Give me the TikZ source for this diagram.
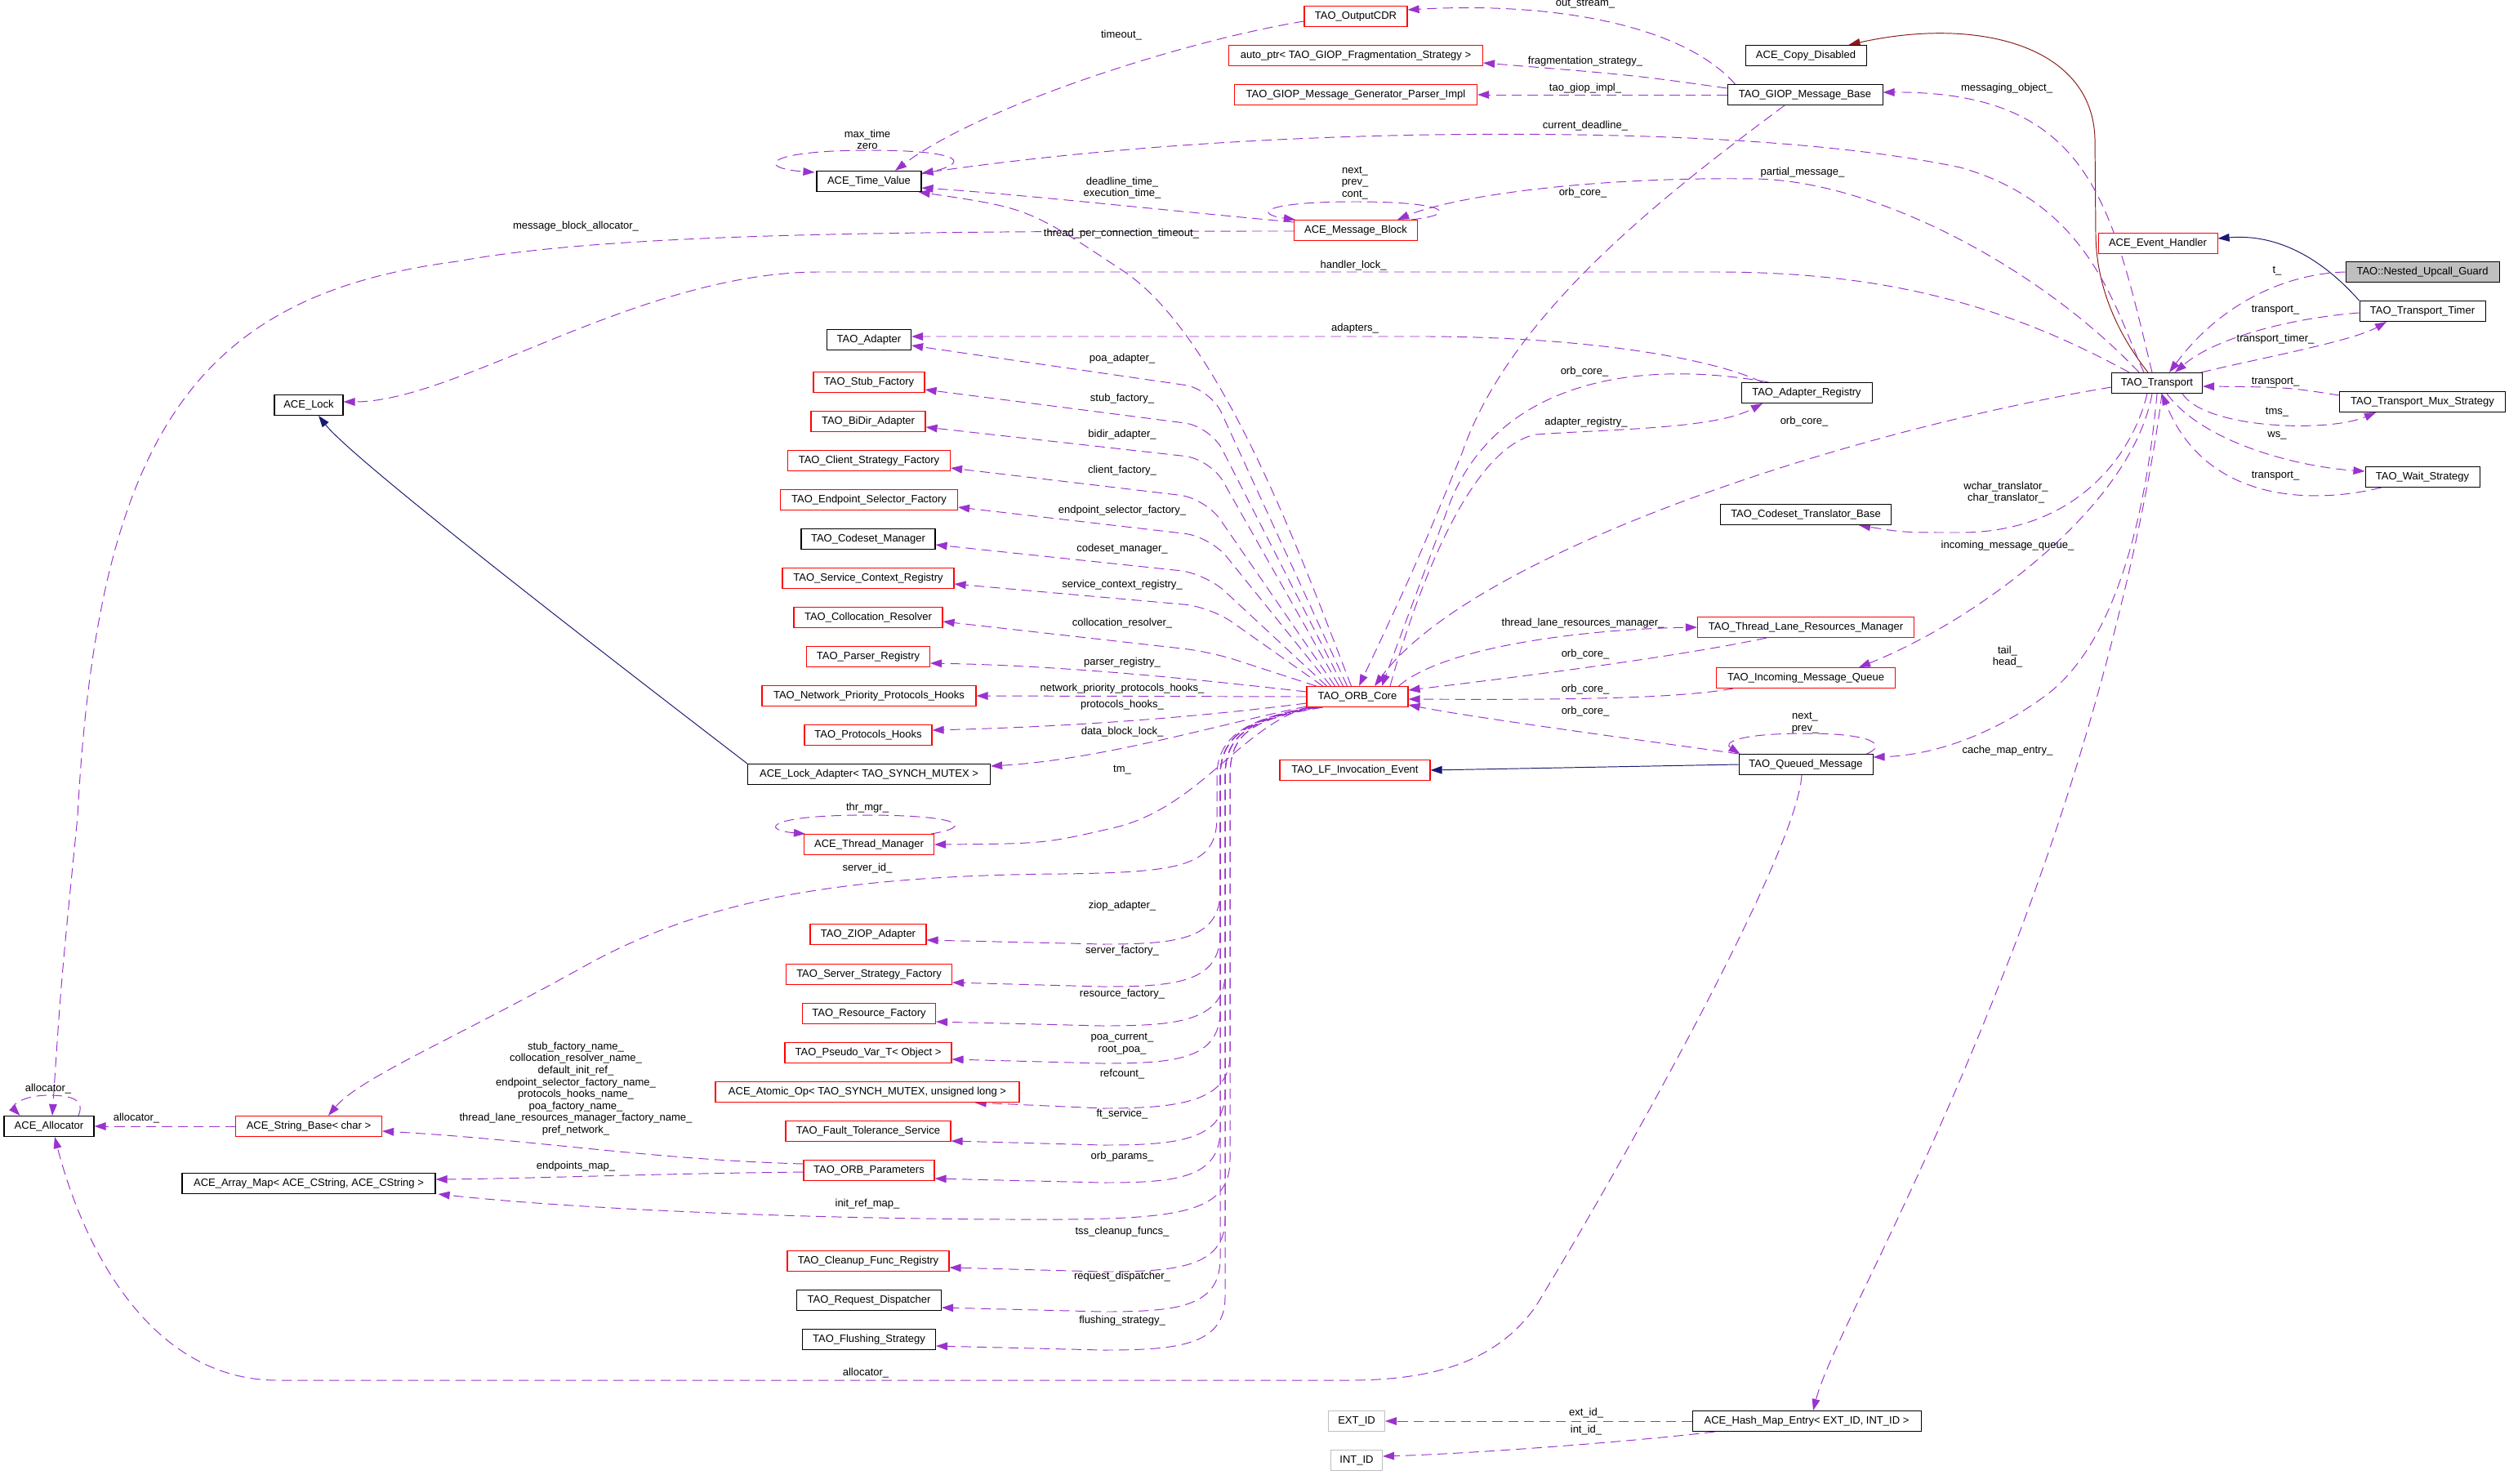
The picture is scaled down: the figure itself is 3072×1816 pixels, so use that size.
\documentclass[tikz,border=0pt]{standalone}
\usepackage{fontspec}
\setmainfont{Liberation Sans}
\usetikzlibrary{arrows.meta,calc,backgrounds}
\definecolor{ucol}{HTML}{9A32CD}
\definecolor{navyc}{HTML}{191970}
\definecolor{maroonc}{HTML}{8B1A1A}
\newcommand{\dfont}{\fontsize{7.4}{8.3}\selectfont}
\begin{document}
\begin{tikzpicture}[x=0.02cm,y=-0.02cm,
  nd/.style={line width=0.6pt, font=\dfont, minimum height=0.5cm, inner xsep=0.1cm, inner ysep=0pt, fill=white},
  rnd/.style={nd, draw=red},
  bnd/.style={nd, draw=black},
  gnd/.style={nd, draw=black!25},
  rootnd/.style={nd, draw=black, fill=black!25},
  wd/.style={minimum width=#1*0.02cm},
  uedge/.style={draw=ucol, dash pattern=on 7pt off 4pt, line width=0.55pt, -{Triangle[length=8pt,width=5.5pt]}},
  inhb/.style={draw=navyc, line width=0.55pt, -{Triangle[length=8pt,width=5.5pt]}},
  inhr/.style={draw=maroonc, line width=0.55pt, -{Triangle[length=8pt,width=5.5pt]}},
  lbl/.style={font=\dfont, inner sep=0pt, align=center},
  rc/.style={rounded corners=18pt}
]
\useasboundingbox (0,0) rectangle (3072,1816);

% ---------------- nodes ----------------
\node[rnd,wd=126] (cdr) at (1660,20) {TAO\_OutputCDR};
\node[rnd,wd=311] (autoptr) at (1660,68) {auto\_ptr< TAO\_GIOP\_Fragmentation\_Strategy >};
\node[rnd,wd=297] (gpi) at (1660,116) {TAO\_GIOP\_Message\_Generator\_Parser\_Impl};
\node[bnd,wd=148] (copy) at (2211,68) {ACE\_Copy\_Disabled};
\node[bnd,wd=190] (gmb) at (2210,116) {TAO\_GIOP\_Message\_Base};
\node[rnd,wd=146] (evh) at (2642,298) {ACE\_Event\_Handler};
\node[rootnd,wd=188] (nug) at (2966,333) {TAO::Nested\_Upcall\_Guard};
\node[rnd,wd=151] (amb) at (1660,282) {ACE\_Message\_Block};
\node[bnd,wd=128] (atv) at (1064,222) {ACE\_Time\_Value};
\node[bnd,wd=103] (adp) at (1064,416) {TAO\_Adapter};
\node[rnd,wd=136] (stub) at (1064,468) {TAO\_Stub\_Factory};
\node[rnd,wd=140] (bidir) at (1063,516) {TAO\_BiDir\_Adapter};
\node[rnd,wd=199] (csf) at (1064,564) {TAO\_Client\_Strategy\_Factory};
\node[rnd,wd=217] (esf) at (1064,612) {TAO\_Endpoint\_Selector\_Factory};
\node[bnd,wd=164] (csm) at (1063,660) {TAO\_Codeset\_Manager};
\node[rnd,wd=210] (scr) at (1063,708) {TAO\_Service\_Context\_Registry};
\node[rnd,wd=182] (cres) at (1063,756) {TAO\_Collocation\_Resolver};
\node[rnd,wd=151] (preg) at (1063,804) {TAO\_Parser\_Registry};
\node[rnd,wd=262] (nph) at (1064,852) {TAO\_Network\_Priority\_Protocols\_Hooks};
\node[rnd,wd=156] (phk) at (1063,900) {TAO\_Protocols\_Hooks};
\node[bnd,wd=297] (lad) at (1064,948) {ACE\_Lock\_Adapter< TAO\_SYNCH\_MUTEX >};
\node[rnd,wd=159] (thm) at (1064,1034) {ACE\_Thread\_Manager};
\node[rnd,wd=142] (ziop) at (1063,1144) {TAO\_ZIOP\_Adapter};
\node[rnd,wd=203] (ssf) at (1064,1193) {TAO\_Server\_Strategy\_Factory};
\node[rnd,wd=163] (rf) at (1064,1241) {TAO\_Resource\_Factory};
\node[rnd,wd=204] (pvar) at (1063,1289) {TAO\_Pseudo\_Var\_T< Object >};
\node[rnd,wd=372] (aop) at (1062,1337) {ACE\_Atomic\_Op< TAO\_SYNCH\_MUTEX, unsigned long >};
\node[rnd,wd=202] (fts) at (1063,1385) {TAO\_Fault\_Tolerance\_Service};
\node[rnd,wd=160] (orbp) at (1064,1433) {TAO\_ORB\_Parameters};
\node[rnd,wd=198] (cfr) at (1063,1544) {TAO\_Cleanup\_Func\_Registry};
\node[bnd,wd=177] (rdisp) at (1064,1592) {TAO\_Request\_Dispatcher};
\node[bnd,wd=163] (flush) at (1064,1640) {TAO\_Flushing\_Strategy};
\node[bnd,wd=84] (lock) at (378,496) {ACE\_Lock};
\node[bnd,wd=110] (alloc) at (60,1379) {ACE\_Allocator};
\node[rnd,wd=179] (sbase) at (378,1379) {ACE\_String\_Base< char >};
\node[bnd,wd=310] (amap) at (378,1449) {ACE\_Array\_Map< ACE\_CString, ACE\_CString >};
\node[rnd,wd=124] (orb) at (1662,853) {TAO\_ORB\_Core};
\node[rnd,wd=184] (lfie) at (1659,943) {TAO\_LF\_Invocation\_Event};
\node[bnd,wd=164] (qm) at (2211,936) {TAO\_Queued\_Message};
\node[rnd,wd=265] (tlrm) at (2211,768) {TAO\_Thread\_Lane\_Resources\_Manager};
\node[rnd,wd=219] (imq) at (2211,830) {TAO\_Incoming\_Message\_Queue};
\node[bnd,wd=160] (areg) at (2212,481) {TAO\_Adapter\_Registry};
\node[bnd,wd=209] (ctb) at (2211,630) {TAO\_Codeset\_Translator\_Base};
\node[bnd,wd=111] (tr) at (2641,469) {TAO\_Transport};
\node[bnd,wd=154] (ttimer) at (2966,381) {TAO\_Transport\_Timer};
\node[bnd,wd=203] (tmux) at (2966,492) {TAO\_Transport\_Mux\_Strategy};
\node[bnd,wd=140] (wait) at (2966,584) {TAO\_Wait\_Strategy};
\node[gnd,wd=69] (ext) at (1661,1740) {EXT\_ID};
\node[gnd,wd=63] (int) at (1661,1788) {INT\_ID};
\node[bnd,wd=280] (hme) at (2212,1740) {ACE\_Hash\_Map\_Entry< EXT\_ID, INT\_ID >};

% ---------------- edges ----------------
\begin{pgfonlayer}{background}
\fill[white] (0,0) rectangle (3072,1816);
% inheritance
\draw[inhr] ($(tr.north)+(-11,0)$) .. controls (2578,390) and (2567,330) .. (2566,290) -- (2565,170) .. controls (2562,55) and (2420,20) .. ($(copy.north east)+(-22,0)$);
\draw[inhb] (ttimer.north west) .. controls (2855,330) and (2800,285) .. ($(evh.east)+(0,-6)$);
\draw[inhb] (lad.north west) .. controls (700,770) and (430,560) .. ($(lock.south)+(12,0)$);
\draw[inhb] (qm.west) -- (lfie.east);
% self loops
\draw[uedge] ($(atv.north east)+(0,4)$) .. controls (1195,200) and (1180,184) .. (1064,184) .. controls (935,184) and (925,206) .. ($(atv.north west)+(-2,2)$);
\draw[uedge] ($(amb.north east)+(-8,0)$) .. controls (1790,262) and (1770,247) .. (1660,247) .. controls (1545,247) and (1535,262) .. ($(amb.north west)+(2,0)$);
\draw[uedge] ($(thm.north east)+(-4,0)$) .. controls (1195,1012) and (1175,998) .. (1060,998) .. controls (940,998) and (930,1016) .. ($(thm.north west)+(2,0)$);
\draw[uedge] ($(alloc.north)+(36,0)$) .. controls (105,1345) and (85,1341) .. (58,1341) .. controls (22,1342) and (15,1356) .. ($(alloc.north west)+(20,0)$);
\draw[uedge] ($(qm.north east)+(-8,0)$) .. controls (2312,912) and (2292,898) .. (2212,898) .. controls (2125,898) and (2110,910) .. ($(qm.north west)+(2,0)$);
% transport
\draw[uedge] (nug.west) .. controls (2800,335) and (2720,370) .. ($(tr.north)+(15,0)$);
\draw[uedge] ($(ttimer.west)+(0,2)$) .. controls (2800,390) and (2710,415) .. ($(tr.north)+(22,0)$);
\draw[uedge] ($(tr.north east)+(-2,0)$) .. controls (2760,440) and (2880,418) .. ($(ttimer.south)+(-44,0)$);
\draw[uedge] ($(tmux.west)+(0,-8)$) .. controls (2800,474) .. ($(tr.east)+(0,4)$);
\draw[uedge] ($(tr.south east)+(-25,0)$) .. controls (2700,525) and (2850,530) .. ($(tmux.south)+(-57,0)$);
\draw[uedge] ($(tr.south)+(12,0)$) .. controls (2700,545) and (2820,572) .. ($(wait.west)+(0,-7)$);
\draw[uedge] ($(wait.south west)+(20,0)$) .. controls (2830,618) and (2700,615) .. ($(tr.south)+(6,0)$);
\draw[uedge] ($(tr.west)+(0,5)$) .. controls (2250,530) and (1800,680) .. ($(orb.north)+(21,0)$);
\draw[uedge] ($(tr.north west)+(22,0)$) .. controls (2450,370) and (2300,333) .. (2100,333) -- (1000,333) .. controls (780,335) and (560,492) .. ($(lock.east)+(0,-4)$);
\draw[uedge] ($(tr.north)+(-16,0)$) .. controls (2590,380) and (2560,250) .. (2400,205) .. controls (2200,163) and (1900,163) .. (1750,165) .. controls (1450,170) and (1250,195) .. ($(atv.east)+(0,-10)$);
\draw[uedge] ($(tr.north)+(-22,0)$) .. controls (2500,330) and (2300,222) .. (2150,219) .. controls (1950,216) and (1780,240) .. ($(amb.north east)+(-25,0)$);
\draw[uedge] ($(tr.north)+(-6,0)$) .. controls (2585,250) and (2560,112) .. ($(gmb.east)+(0,-3)$);
\draw[uedge] ($(tr.south)+(-12,0)$) .. controls (2610,560) and (2540,652) .. (2400,652) .. controls (2330,652) .. ($(ctb.south east)+(-40,0)$);
\draw[uedge] ($(tr.south)+(-6,0)$) .. controls (2610,620) and (2420,760) .. ($(imq.north east)+(-45,0)$);
\draw[uedge] (tr.south) .. controls (2625,660) and (2580,800) .. (2500,855) .. controls (2430,905) and (2360,925) .. ($(qm.east)+(0,-9)$);
\draw[uedge] ($(tr.south)+(6,0)$) .. controls (2630,620) and (2570,900) .. (2450,1200) .. controls (2340,1480) and (2240,1650) .. ($(hme.north)+(8,0)$);
% giop message base
\draw[uedge] ($(gmb.north west)+(10,0)$) .. controls (2060,30) and (1900,2) .. ($(cdr.east)+(0,-8)$);
\draw[uedge] ($(gmb.west)+(0,-8)$) .. controls (2000,92) .. ($(autoptr.east)+(0,9)$);
\draw[uedge] (gmb.west) -- (gpi.east);
\draw[uedge] ($(gmb.south)+(-25,0)$) .. controls (2050,230) and (1850,380) .. (1790,555) .. controls (1730,700) .. ($(orb.north)+(2,0)$);
% output cdr, message block
\draw[uedge] ($(cdr.west)+(0,6)$) .. controls (1450,50) and (1200,130) .. ($(atv.north)+(32,0)$);
\draw[uedge] ($(amb.west)+(0,-10)$) .. controls (1400,255) and (1250,238) .. ($(atv.east)+(0,8)$);
\draw[uedge] ($(amb.west)+(0,1)$) .. controls (1100,283) and (750,285) .. (560,320) .. controls (250,360) and (120,520) .. (95,1000) .. controls (75,1200) .. ($(alloc.north)+(4,0)$);
% orb core upward
\draw[uedge] ($(orb.north west)+(55,0)$) .. controls (1600,700) and (1500,420) .. (1380,335) .. controls (1260,255) .. ($(atv.south east)+(-4,0)$);
\draw[uedge,rc] ($(orb.north west)+(50,0)$) -- (1482,476) -- ($(adp.east)+(0,7)$);
\draw[uedge,rc] ($(orb.north west)+(45,0)$) -- (1482,522) -- ($(stub.east)+(0,9)$);
\draw[uedge,rc] ($(orb.north west)+(40,0)$) -- (1482,562) -- ($(bidir.east)+(0,7)$);
\draw[uedge,rc] ($(orb.north west)+(35,0)$) -- (1476,610) -- ($(csf.east)+(0,9)$);
\draw[uedge,rc] ($(orb.north west)+(30,0)$) -- (1482,657) -- ($(esf.east)+(0,9)$);
\draw[uedge,rc] ($(orb.north west)+(25,0)$) -- (1476,702) -- ($(csm.east)+(0,7)$);
\draw[uedge,rc] ($(orb.north west)+(20,0)$) -- (1482,743) -- ($(scr.east)+(0,7)$);
\draw[uedge,rc] ($(orb.north west)+(12,0)$) -- (1482,798) -- ($(cres.east)+(0,5)$);
% adapter registry
\draw[uedge] ($(areg.north west)+(26,0)$) .. controls (2100,440) and (1950,413) .. (1750,412) -- ($(adp.east)+(0,-4)$);
\draw[uedge] ($(areg.north west)+(34,0)$) .. controls (1980,435) and (1820,480) .. (1770,630) -- ($(orb.north)+(30,0)$);
\draw[uedge] ($(orb.north)+(40,0)$) .. controls (1730,740) and (1795,550) .. (1880,532) .. controls (1980,525) and (2100,525) .. ($(areg.south)+(-54,0)$);
% right side of orb core
\draw[uedge] ($(orb.north east)+(-12,0)$) .. controls (1770,790) and (1950,770) .. (tlrm.west);
\draw[uedge] ($(tlrm.south west)+(85,0)$) .. controls (2050,805) and (1850,830) .. ($(orb.east)+(0,-8)$);
\draw[uedge] ($(imq.south west)+(21,0)$) .. controls (2050,856) and (1900,857) .. ($(orb.east)+(0,3)$);
\draw[uedge] (qm.north west) .. controls (2000,905) and (1800,878) .. ($(orb.east)+(0,10)$);
% left side of orb core
\draw[uedge] ($(orb.west)+(0,-6)$) .. controls (1450,830) and (1300,815) .. ($(preg.east)+(0,8)$);
\draw[uedge] (orb.west) -- (nph.east);
\draw[uedge] ($(orb.west)+(0,8)$) .. controls (1450,880) and (1300,890) .. ($(phk.east)+(0,-6)$);
\draw[uedge] ($(orb.south west)+(0,-1)$) .. controls (1500,885) and (1350,930) .. ($(lad.east)+(0,-10)$);
\draw[uedge] ($(orb.south west)+(2,0)$) .. controls (1520,890) and (1470,985) .. (1370,1012) .. controls (1280,1033) .. (thm.east);
\draw[uedge] ($(orb.south west)+(4,0)$) .. controls (1530,880) and (1490,900) .. (1490,950) -- (1490,1000) .. controls (1490,1060) and (1450,1068) .. (1300,1070) .. controls (1000,1072) and (850,1110) .. (721,1180) .. controls (560,1270) and (440,1320) .. ($(sbase.north)+(24,0)$);
\foreach \n/\dy/\ey/\xv/\s in {ziop/7/1151/1494/8, ssf/10/1203/1494/8, rf/10/1251/1500/14, pvar/8/1297/1494/8, fts/12/1397/1500/14, orbp/10/1443/1494/8, cfr/8/1552/1500/14, rdisp/9/1601/1494/8, flush/8/1648/1500/14}
  \draw[uedge] ($(orb.south west)+(\s,0)$) .. controls (1530,880) and (\xv,900) .. (\xv,950) -- (\xv,\ey-60) .. controls (\xv,\ey) and (1440,\ey+5) .. (1350,\ey+5) -- ($(\n.east)+(0,\dy)$);
\draw[uedge] ($(orb.south west)+(20,0)$) .. controls (1530,880) and (1506,900) .. (1506,950) -- (1506,1292) .. controls (1506,1350) and (1440,1357) .. (1350,1357) -- ($(aop.south east)+(-55,0)$);
\draw[uedge] ($(orb.south west)+(20,0)$) .. controls (1530,880) and (1506,900) .. (1506,950) -- (1506,1420) .. controls (1506,1482) and (1450,1492) .. (1300,1493) .. controls (1000,1494) and (700,1480) .. ($(amap.south east)+(3,0)$);
% orb parameters, string base
\draw[uedge] ($(orbp.west)+(0,-8)$) .. controls (800,1420) and (650,1395) .. ($(sbase.east)+(0,6)$);
\draw[uedge] ($(orbp.west)+(0,2)$) .. controls (800,1437) and (650,1443) .. ($(amap.east)+(0,-5)$);
\draw[uedge] (sbase.west) -- (alloc.east);
% queued message allocator
\draw[uedge] ($(qm.south)+(-5,0)$) .. controls (2200,1050) and (1960,1470) .. (1880,1600) .. controls (1830,1670) and (1750,1690) .. (1650,1690) -- (340,1690) .. controls (180,1690) and (100,1520) .. ($(alloc.south)+(7,0)$);
% hash map entry
\draw[uedge] (hme.west) -- (ext.east);
\draw[uedge] ($(hme.south west)+(28,0)$) .. controls (2000,1765) and (1800,1780) .. ($(int.east)+(0,-5)$);
\end{pgfonlayer}

% ---------------- labels ----------------
\node[lbl] (l1) at (1941,5) {out\_stream\_};
\node[lbl] (l2) at (1941,75) {fragmentation\_strategy\_};
\node[lbl] (l3) at (1941,108) {tao\_giop\_impl\_};
\node[lbl] (l4) at (2457,108) {messaging\_object\_};
\node[lbl] (l5) at (1941,154) {current\_deadline\_};
\node[lbl] (l6) at (1373,43) {timeout\_};
\node[lbl] (l7) at (1062,171) {max\_time\\zero};
\node[lbl] (l8) at (1374,230) {deadline\_time\_\\execution\_time\_};
\node[lbl] (l9) at (1659,224) {next\_\\prev\_\\cont\_};
\node[lbl] (l10) at (2207,211) {partial\_message\_};
\node[lbl] (l11) at (1938,236) {orb\_core\_};
\node[lbl] (l12) at (1373,286) {thread\_per\_connection\_timeout\_};
\node[lbl] (l13) at (705,277) {message\_block\_allocator\_};
\node[lbl] (l14) at (1657,325) {handler\_lock\_};
\node[lbl] (l15) at (2788,332) {t\_};
\node[lbl] (l16) at (2786,380) {transport\_};
\node[lbl] (l17) at (2786,415) {transport\_timer\_};
\node[lbl] (l18) at (1659,402) {adapters\_};
\node[lbl] (l19) at (1940,455) {orb\_core\_};
\node[lbl] (l20) at (2786,468) {transport\_};
\node[lbl] (l21) at (2788,505) {tms\_};
\node[lbl] (l22) at (2209,516) {orb\_core\_};
\node[lbl] (l23) at (1942,517) {adapter\_registry\_};
\node[lbl] (l24) at (2788,533) {ws\_};
\node[lbl] (l25) at (2786,583) {transport\_};
\node[lbl] (l26) at (2456,603) {wchar\_translator\_\\char\_translator\_};
\node[lbl] (l27) at (2458,668) {incoming\_message\_queue\_};
\node[lbl] (l28) at (1374,439) {poa\_adapter\_};
\node[lbl] (l29) at (1374,488) {stub\_factory\_};
\node[lbl] (l30) at (1374,532) {bidir\_adapter\_};
\node[lbl] (l31) at (1374,576) {client\_factory\_};
\node[lbl] (l32) at (1374,625) {endpoint\_selector\_factory\_};
\node[lbl] (l33) at (1374,672) {codeset\_manager\_};
\node[lbl] (l34) at (1374,716) {service\_context\_registry\_};
\node[lbl] (l35) at (1374,763) {collocation\_resolver\_};
\node[lbl] (l36) at (1938,763) {thread\_lane\_resources\_manager\_};
\node[lbl] (l37) at (2458,804) {tail\_\\head\_};
\node[lbl] (l38) at (1941,801) {orb\_core\_};
\node[lbl] (l39) at (1374,811) {parser\_registry\_};
\node[lbl] (l40) at (1374,843) {network\_priority\_protocols\_hooks\_};
\node[lbl] (l41) at (1941,844) {orb\_core\_};
\node[lbl] (l42) at (1374,863) {protocols\_hooks\_};
\node[lbl] (l43) at (1941,871) {orb\_core\_};
\node[lbl] (l44) at (2210,885) {next\_\\prev\_};
\node[lbl] (l45) at (1374,896) {data\_block\_lock\_};
\node[lbl] (l46) at (2458,919) {cache\_map\_entry\_};
\node[lbl] (l47) at (1374,943) {tm\_};
\node[lbl] (l48) at (1062,989) {thr\_mgr\_};
\node[lbl] (l49) at (1062,1063) {server\_id\_};
\node[lbl] (l50) at (1374,1109) {ziop\_adapter\_};
\node[lbl] (l51) at (1374,1164) {server\_factory\_};
\node[lbl] (l52) at (1374,1217) {resource\_factory\_};
\node[lbl] (l53) at (1374,1278) {poa\_current\_\\root\_poa\_};
\node[lbl] (l54) at (1374,1315) {refcount\_};
\node[lbl] (l55) at (705,1333) {stub\_factory\_name\_\\collocation\_resolver\_name\_\\default\_init\_ref\_\\endpoint\_selector\_factory\_name\_\\protocols\_hooks\_name\_\\poa\_factory\_name\_\\thread\_lane\_resources\_manager\_factory\_name\_\\pref\_network\_};
\node[lbl] (l56) at (59,1333) {allocator\_};
\node[lbl] (l57) at (167,1369) {allocator\_};
\node[lbl] (l58) at (1374,1364) {ft\_service\_};
\node[lbl] (l59) at (1374,1416) {orb\_params\_};
\node[lbl] (l60) at (705,1428) {endpoints\_map\_};
\node[lbl] (l61) at (1062,1474) {init\_ref\_map\_};
\node[lbl] (l62) at (1374,1508) {tss\_cleanup\_funcs\_};
\node[lbl] (l63) at (1374,1563) {request\_dispatcher\_};
\node[lbl] (l64) at (1374,1617) {flushing\_strategy\_};
\node[lbl] (l65) at (1060,1681) {allocator\_};
\node[lbl] (l66) at (1942,1730) {ext\_id\_};
\node[lbl] (l67) at (1942,1751) {int\_id\_};
\end{tikzpicture}
\end{document}
